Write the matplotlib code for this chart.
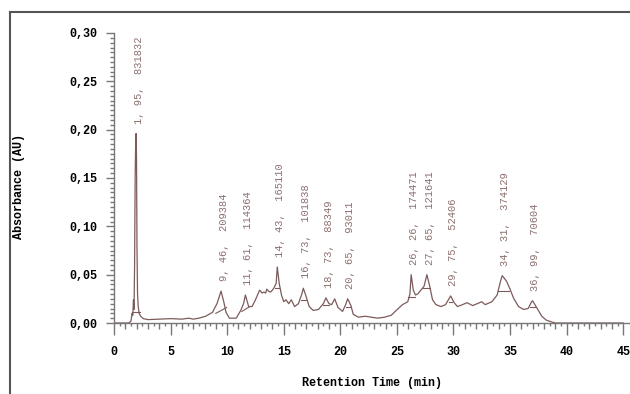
import numpy as np
import matplotlib.pyplot as plt
from matplotlib.lines import Line2D
from matplotlib.ticker import MultipleLocator, FuncFormatter

# chromatogram trace (min, AU)
rt = [0.0, 1.3, 1.5, 1.6, 1.66, 1.72, 1.77, 1.82, 1.87, 1.92, 1.95, 1.99, 2.03, 2.08,
      2.14, 2.22, 2.35, 2.6, 3.0, 4.0, 5.0, 6.0, 6.6, 7.0, 7.5, 8.1, 8.7, 9.1, 9.46,
      9.7, 9.9, 10.2, 10.8, 11.2, 11.45, 11.61, 11.9, 12.2, 12.5, 12.87, 13.1, 13.25,
      13.4, 13.5, 13.65, 13.83, 14.0, 14.12, 14.33, 14.43, 14.6, 14.8, 15.0, 15.2,
      15.44, 15.67, 15.96, 16.3, 16.6, 16.73, 16.99, 17.25, 17.6, 18.07, 18.5, 18.73,
      19.0, 19.24, 19.5, 19.8, 20.2, 20.47, 20.65, 20.94, 21.14, 21.6, 22.2, 22.75,
      23.3, 23.9, 24.5, 24.94, 25.5, 25.96, 26.15, 26.26, 26.45, 26.64, 26.84, 27.05,
      27.4, 27.65, 27.9, 28.15, 28.45, 28.9, 29.3, 29.6, 29.75, 30.06, 30.35, 30.8,
      31.2, 31.7, 32.1, 32.5, 32.8, 33.4, 33.86, 34.15, 34.31, 34.7, 35.0, 35.3,
      35.75, 36.2, 36.6, 36.9, 36.99, 37.4, 37.8, 38.2, 38.7, 39.0, 45.0]
au = [0.0, 0.0, 0.002, 0.01, 0.008, 0.024, 0.014, 0.06, 0.15, 0.19, 0.196, 0.17, 0.08, 0.03,
      0.017, 0.01, 0.007, 0.0045, 0.0035, 0.004, 0.0045, 0.004, 0.005, 0.004, 0.005,
      0.007, 0.011, 0.02, 0.033, 0.022, 0.011, 0.005, 0.005, 0.013, 0.02, 0.029,
      0.017, 0.017, 0.024, 0.034, 0.031, 0.032, 0.031, 0.035, 0.033, 0.032, 0.034,
      0.036, 0.041, 0.058, 0.041, 0.029, 0.022, 0.024, 0.02, 0.024, 0.017, 0.02,
      0.03, 0.036, 0.027, 0.017, 0.013, 0.014, 0.02, 0.026, 0.02, 0.019, 0.025,
      0.016, 0.012, 0.019, 0.025, 0.018, 0.009, 0.006, 0.007, 0.006, 0.005, 0.006,
      0.008, 0.013, 0.019, 0.022, 0.03, 0.05, 0.034, 0.029, 0.03, 0.033, 0.038,
      0.05, 0.038, 0.024, 0.019, 0.017, 0.019, 0.025, 0.028, 0.021, 0.017, 0.019,
      0.021, 0.018, 0.02, 0.022, 0.019, 0.022, 0.029, 0.043, 0.049, 0.043, 0.035,
      0.026, 0.017, 0.014, 0.015, 0.022, 0.023, 0.015, 0.007, 0.003, 0.001, 0.0, 0.0]

# integration baselines under the labelled peaks (x0, y0, x1, y1)
base_x0 = [1.62, 9.0, 11.3, 14.2, 16.5, 18.5, 20.5, 26.0, 27.3, 29.6, 33.9, 36.8]
base_y0 = [0.011, 0.010, 0.012, 0.036, 0.024, 0.019, 0.017, 0.027, 0.036, 0.022, 0.033, 0.017]
base_x1 = [2.3, 9.95, 12.0, 14.6, 17.0, 19.0, 20.85, 26.6, 27.9, 29.9, 34.9, 37.2]
base_y1 = [0.011, 0.016, 0.017, 0.036, 0.024, 0.019, 0.017, 0.027, 0.036, 0.022, 0.033, 0.017]

# peak labels
peak_rt = [1.95, 9.46, 11.61, 14.43, 16.73, 18.73, 20.65, 26.26, 27.65, 29.75, 34.31, 36.99]
peak_h = [0.196, 0.033, 0.029, 0.058, 0.036, 0.026, 0.025, 0.05, 0.05, 0.028, 0.049, 0.023]
peak_txt = ['1, 95,  831832', '9, 46,  209384', '11, 61,  114364', '14, 43,  165110',
            '16, 73,  101838', '18, 73,  88349', '20, 65,  93011', '26, 26,  174471',
            '27, 65,  121641', '29, 75,  52406', '34, 31,  374129', '36, 99,  70604']

line_col = '#7d5b5b'
txt_col = '#8c6e6e'
mono = 'Liberation Mono'

fig = plt.figure(figsize=(6.3, 3.94), dpi=100)
ax = fig.add_axes([114 / 630, 71 / 394, 516 / 630, 290 / 394])

ax.plot(rt, au, color=line_col, lw=0.9)
for i in range(len(base_x0)):
    ax.plot([base_x0[i], base_x1[i]], [base_y0[i], base_y1[i]], color=line_col, lw=0.8)

for x, h, s in zip(peak_rt, peak_h, peak_txt):
    ax.annotate(s, xy=(x, h), xytext=(2, 7), textcoords='offset points',
                rotation=90, ha='center', va='bottom', fontsize=7.5,
                family=mono, color=txt_col)

ax.set_xlim(0, 45.6)
ax.set_ylim(0, 0.30)

for sp in ['top', 'right']:
    ax.spines[sp].set_visible(False)
for sp in ['left', 'bottom']:
    ax.spines[sp].set_color('#777777')
    ax.spines[sp].set_linewidth(1.0)

ax.xaxis.set_major_locator(MultipleLocator(5))
ax.xaxis.set_minor_locator(MultipleLocator(1))
ax.yaxis.set_major_locator(MultipleLocator(0.05))
ax.yaxis.set_minor_locator(MultipleLocator(0.005))
ax.yaxis.set_major_formatter(FuncFormatter(lambda v, p: f'{v:.2f}'.replace('.', ',')))

ax.tick_params(axis='x', which='major', length=8.5, width=1, color='#777777', pad=8)
ax.tick_params(axis='x', which='minor', length=4.5, width=1, color='#777777')
ax.tick_params(axis='y', which='major', length=6, width=1, color='#777777', pad=6)
ax.tick_params(axis='y', which='minor', length=3, width=1, color='#777777')

# half-minute ticks
sec = ax.secondary_xaxis('bottom')
sec.set_xticks(np.arange(0.5, 45.5, 1.0))
sec.tick_params(length=2.5, width=1, color='#777777', labelbottom=False)
sec.spines['bottom'].set_visible(False)

for lab in ax.get_xticklabels() + ax.get_yticklabels():
    lab.set_fontfamily(mono)
    lab.set_fontweight('bold')
    lab.set_fontsize(8.5)

ax.set_xlabel('Retention Time (min)', family=mono, fontweight='bold', fontsize=8.5)
ax.xaxis.set_label_coords(0.5, -0.185)
ax.set_ylabel('Absorbance (AU)', family=mono, fontweight='bold', fontsize=8.5)
ax.yaxis.set_label_coords(-0.172, 0.47)

# outer frame, left and top only
fig.add_artist(Line2D([10 / 630, 10 / 630], [0, 1 - 12 / 394], color='#555555', lw=1.5))
fig.add_artist(Line2D([10 / 630, 1], [1 - 12 / 394, 1 - 12 / 394], color='#555555', lw=1.5))

plt.savefig('out.png', dpi=100)
plt.close()
